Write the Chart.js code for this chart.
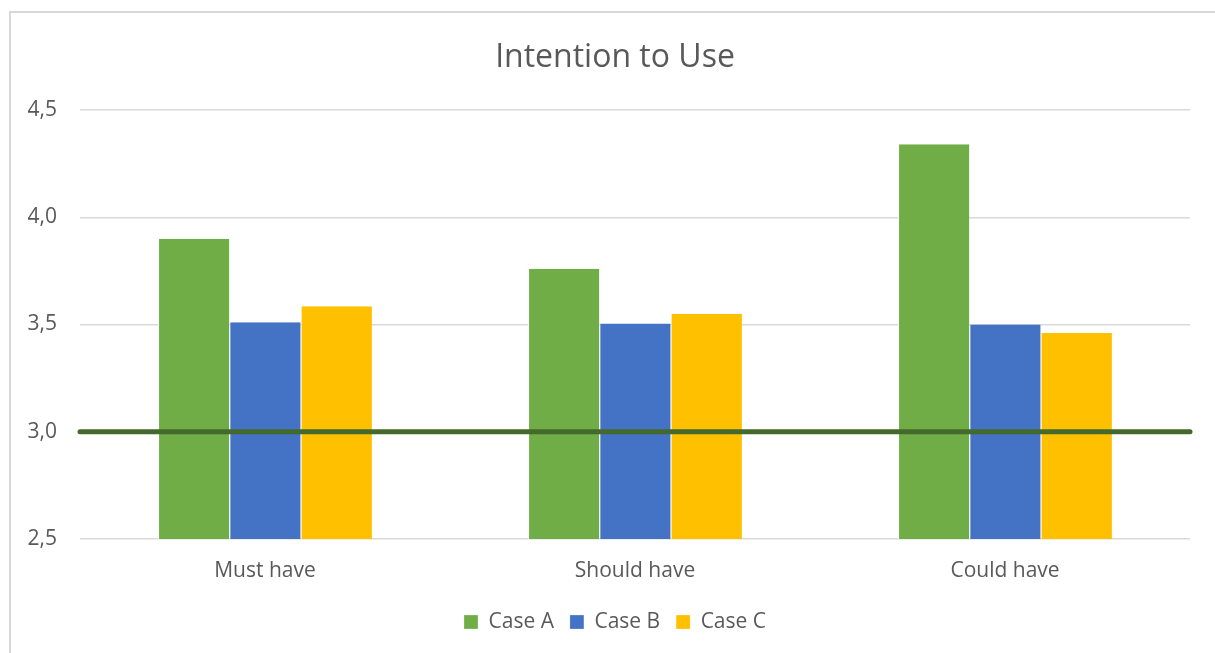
<!DOCTYPE html>
<html>
<head>
<meta charset="utf-8">
<script src="https://cdn.jsdelivr.net/npm/chart.js@4/dist/chart.umd.min.js"></script>
<style>
  html, body { margin: 0; padding: 0; background: #fff; overflow: hidden; width: 1215px; height: 653px; }
  #frame {
    position: absolute; left: 9px; top: 11px; width: 1400px; height: 800px;
    border-left: 2px solid #d9d9d9; border-top: 2px solid #d9d9d9;
  }
  #wrap { position: absolute; left: 0; top: 0; width: 1230px; height: 653px; }
</style>
</head>
<body>
<div id="frame"></div>
<div id="wrap"><canvas id="chart" width="1230" height="653"></canvas></div>
<script>
const categories = ['Must have', 'Should have', 'Could have'];
const caseA = [3.90, 3.76, 4.34];
const caseB = [3.51, 3.505, 3.50];
const caseC = [3.585, 3.55, 3.46];
const seriesNames = ['Case A', 'Case B', 'Case C'];
const yTicks = [2.5, 3.0, 3.5, 4.0, 4.5];
const referenceLevel = 3.0;

const FONT = "'Open Sans', sans-serif";
const TEXT = '#595959';

// Horizontal reference line drawn on top of the bars
const referenceLine = {
  id: 'referenceLine',
  afterDatasetsDraw(chart) {
    const { ctx, chartArea, scales } = chart;
    const y = scales.y.getPixelForValue(referenceLevel);
    ctx.save();
    ctx.strokeStyle = '#44692c';
    ctx.lineWidth = 5;
    ctx.lineCap = 'round';
    ctx.beginPath();
    ctx.moveTo(chartArea.left, y);
    ctx.lineTo(chartArea.right, y);
    ctx.stroke();
    ctx.restore();
  }
};

const barStyle = { borderColor: '#ffffff', borderWidth: { left: 1, right: 0, top: 0, bottom: 0 } };

new Chart(document.getElementById('chart'), {
  type: 'bar',
  data: {
    labels: categories,
    datasets: [
      { label: seriesNames[0], data: caseA, backgroundColor: '#70ad47', ...barStyle },
      { label: seriesNames[1], data: caseB, backgroundColor: '#4472c4', ...barStyle },
      { label: seriesNames[2], data: caseC, backgroundColor: '#ffc000', ...barStyle }
    ]
  },
  options: {
    responsive: false,
    animation: false,
    layout: { padding: { left: 0, right: 0, top: 0, bottom: 10.5 } },
    datasets: { bar: { barPercentage: 1.0, categoryPercentage: 0.578 } },
    plugins: {
      title: {
        display: true,
        text: 'Intention to Use',
        color: TEXT,
        font: { family: FONT, size: 32, weight: 'normal', lineHeight: 1.2 },
        padding: { top: 38.8, bottom: 32.8 }
      },
      legend: {
        position: 'bottom',
        labels: {
          color: TEXT,
          font: { family: FONT, size: 21 },
          boxWidth: 14, boxHeight: 14,
          padding: 16
        }
      },
      tooltip: { enabled: false }
    },
    scales: {
      x: {
        grid: { display: false, drawTicks: false },
        border: { display: false },
        ticks: { color: TEXT, font: { family: FONT, size: 21 }, padding: 19 },
        afterFit(scale) { scale.height = 56.5; }
      },
      y: {
        min: 2.5, max: 4.5,
        afterBuildTicks(scale) { scale.ticks = yTicks.map(v => ({ value: v })); },
        grid: { color: '#d9d9d9', lineWidth: 1.5, drawTicks: false },
        border: { display: false },
        ticks: {
          color: TEXT, font: { family: FONT, size: 21 }, padding: 23,
          callback: v => v.toFixed(1).replace('.', ',')
        },
        afterFit(scale) { scale.width = 80; }
      },
      // empty right-hand margin of the plot
      yRight: {
        position: 'right',
        grid: { display: false, drawTicks: false },
        border: { display: false },
        ticks: { display: false },
        afterFit(scale) { scale.width = 40; }
      }
    }
  },
  plugins: [referenceLine]
});
</script>
</body>
</html>
